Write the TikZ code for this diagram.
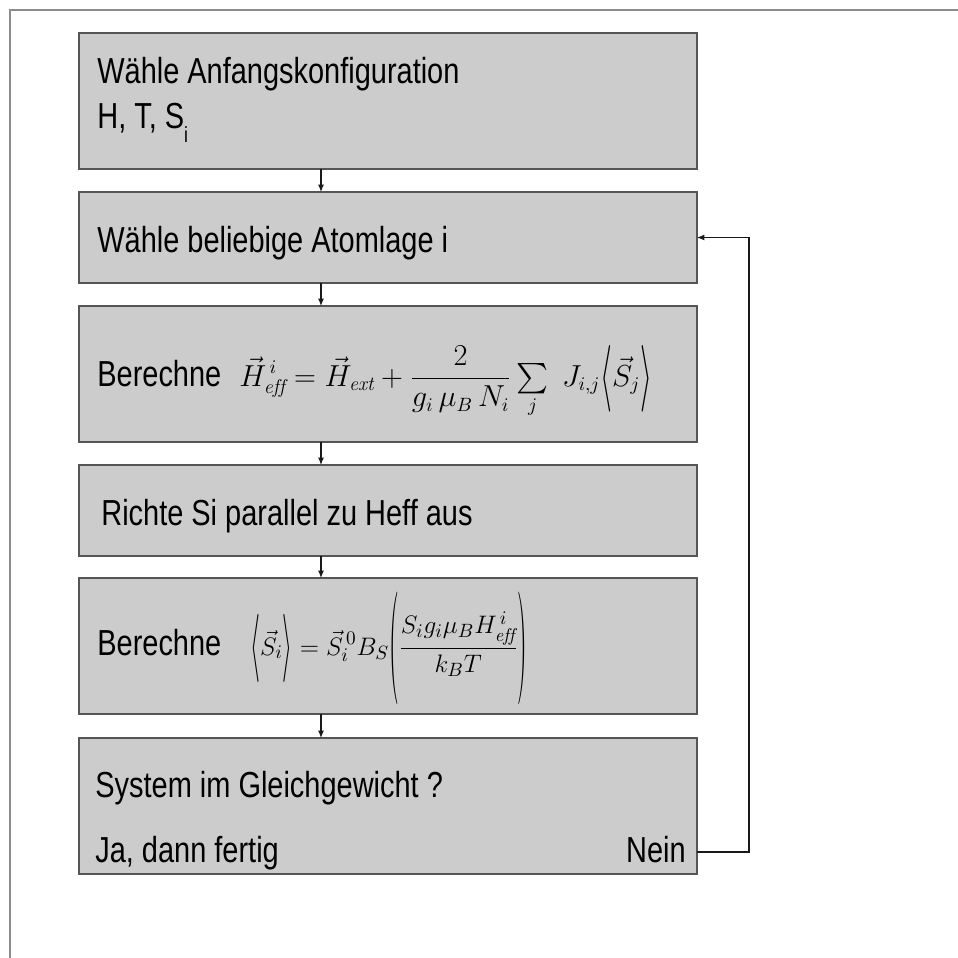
\documentclass[tikz,border=0pt]{standalone}
\usepackage{amsmath}
\usepackage{graphicx}
\usepackage{fontspec}
\newfontfamily\narrowsf[FakeStretch=0.8]{Liberation Sans}
\newcommand{\tallopen}[2]{\mathopen{\vcenter{\hbox{\scalebox{1}[#1]{$#2$}}}}}
\newcommand{\tallclose}[2]{\mathclose{\vcenter{\hbox{\scalebox{1}[#1]{$#2$}}}}}
\usetikzlibrary{positioning,arrows.meta}

\begin{document}
\begin{tikzpicture}[x=0.02cm,y=-0.02cm,font=\narrowsf\fontsize{20.6}{25.7}\selectfont,
  stepbox/.style={draw=boxline,fill=boxfill,line width=.8pt,minimum width=12.36cm,inner sep=0pt,outer sep=0pt},
  tall/.style={minimum height=2.72cm},
  flat/.style={minimum height=1.82cm},
  arr/.style={-{Latex[length=.15cm,width=.12cm]},line width=.6pt,draw=black!90},
  lbl/.style={anchor=base west,inner sep=0pt},
  eqn/.style={anchor=base west,inner sep=0pt,font=\fontsize{16.2}{19}\selectfont},
  frm/.style={draw=black!45,line width=.8pt}]
\definecolor{boxfill}{HTML}{CCCCCC}
\definecolor{boxline}{HTML}{555555}
\useasboundingbox (0,0) rectangle (958,958);
\draw[frm] (10,958) -- (10,10) -- (958,10);
\node[stepbox,tall] (init) at (388,101) {};
\node[stepbox,flat] (pick) at (388,237.5) {};
\node[stepbox,tall] (field) at (388,374) {};
\node[stepbox,flat] (align) at (388,510.5) {};
\node[stepbox,tall] (spin) at (388,646) {};
\node[stepbox,tall] (check) at (388,806) {};
\node[lbl] (initA) at (97,83) {Wähle Anfangskonfiguration};
\node[lbl] (initB) at (97,128) {H, T, S\raisebox{-8.5pt}{\fontsize{12.5}{12.5}\selectfont i}};
\node[lbl] (pickT) at (97,252) {Wähle beliebige Atomlage i};
\node[lbl] (fieldT) at (97,386) {Berechne};
\node[eqn] (fieldF) at (239,386)
  {$\displaystyle \vec{H}^{\,i}_{\mathit{eff}} = \vec{H}_{\mathit{ext}} + \frac{2}{g_i\,\mu_B\,N_i}\mathop{\textstyle\sum}\limits_{j}\; J_{i,j}\tallopen{2.2}{\langle}\vec{S}_j\tallclose{2.2}{\rangle}$};
\node[lbl] (alignT) at (101,525) {Richte Si parallel zu Heff aus};
\node[lbl] (spinT) at (97,655) {Berechne};
\node[eqn,font=\fontsize{15}{18}\selectfont] (spinF) at (250,655)
  {$\displaystyle \tallopen{2.7}{\langle}\vec{S}_i\tallclose{2.7}{\rangle} = \vec{S}^{\,0}_i B_S\tallopen{4.45}{(}\frac{S_i g_i \mu_B H^{\,i}_{\mathit{eff}}}{k_B T}\tallclose{4.45}{)}$};
\node[lbl] (checkT) at (95,797) {System im Gleichgewicht ?};
\node[lbl] (yes) at (95,862) {Ja, dann fertig};
\node[anchor=base east,inner sep=0pt] (no) at (686,862) {Nein};
\coordinate (ax) at (321,0);
\coordinate (ret) at (749,852);
\draw[arr] (init.south -| ax) -- (pick.north -| ax);
\draw[arr] (pick.south -| ax) -- (field.north -| ax);
\draw[arr] (field.south -| ax) -- (align.north -| ax);
\draw[arr] (align.south -| ax) -- (spin.north -| ax);
\draw[arr] (spin.south -| ax) -- (check.north -| ax);
\draw[arr] (check.east |- ret) -- (ret) |- (pick.east);
\end{tikzpicture}
\end{document}
